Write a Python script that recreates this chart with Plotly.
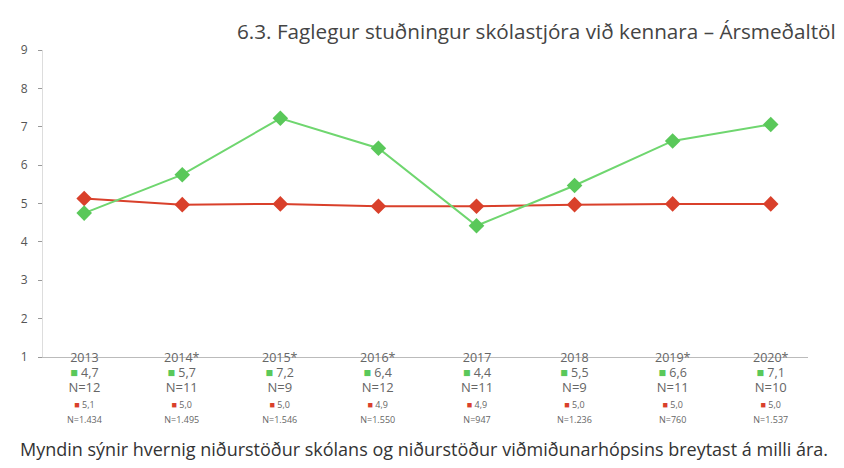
import plotly.graph_objects as go

years = ["2013", "2014*", "2015*", "2016*", "2017", "2018", "2019*", "2020*"]
school = [4.75, 5.75, 7.22, 6.44, 4.42, 5.47, 6.63, 7.06]
school_lbl = ["4,7", "5,7", "7,2", "6,4", "4,4", "5,5", "6,6", "7,1"]
school_n = ["N=12", "N=11", "N=9", "N=12", "N=11", "N=9", "N=11", "N=10"]
ref = [5.13, 4.97, 4.99, 4.93, 4.93, 4.97, 4.99, 4.99]
ref_lbl = ["5,1", "5,0", "5,0", "4,9", "4,9", "5,0", "5,0", "5,0"]
ref_n = ["N=1.434", "N=1.495", "N=1.546", "N=1.550", "N=947", "N=1.236", "N=760", "N=1.537"]

GREEN = "#6fd66f"
GREEN_M = "#5ac85a"
RED = "#d9402b"
FONT = "Open Sans, sans-serif"

xs = list(range(len(years)))

fig = go.Figure()
fig.add_trace(go.Scatter(x=xs, y=ref, mode="lines+markers",
                         line=dict(color=RED, width=2),
                         marker=dict(symbol="diamond", size=12, color=RED)))
fig.add_trace(go.Scatter(x=xs, y=school, mode="lines+markers",
                         line=dict(color=GREEN, width=2),
                         marker=dict(symbol="diamond", size=12, color=GREEN_M)))

ann = []
for i, x in enumerate(xs):
    txt = (f"<span style='font-size:12.5px'>{years[i]}</span><br>"
           f"<span style='font-size:12.5px;color:{GREEN_M}'>■</span>"
           f"<span style='font-size:12.5px'> {school_lbl[i]}</span><br>"
           f"<span style='font-size:13px'>{school_n[i]}</span><br>"
           f"<span style='font-size:9px;color:{RED}'>■</span>"
           f"<span style='font-size:9px'> {ref_lbl[i]}</span><br>"
           f"<span style='font-size:9px'>{ref_n[i]}</span>")
    ann.append(dict(x=x, y=(349 - 379.5) / 307, xref="x", yref="paper", showarrow=False,
                    xanchor="center", yanchor="middle", text=txt,
                    font=dict(size=11.7, color="#666", family=FONT)))
ann.append(dict(x=(416 - 35) / 765, y=(349 - 441) / 307, xref="paper", yref="paper", showarrow=False,
                xanchor="center", yanchor="middle",
                text="Myndin sýnir hvernig niðurstöður skólans og niðurstöður viðmiðunarhópsins breytast á milli ára.",
                font=dict(size=18, color="#333", family=FONT)))

fig.update_layout(
    width=844, height=468,
    margin=dict(l=35, r=44, t=42, b=119),
    paper_bgcolor="white", plot_bgcolor="white",
    showlegend=False,
    font=dict(family=FONT, color="#555"),
    title=dict(text="6.3. Faglegur stuðningur skólastjóra við kennara – Ársmeðaltöl",
               xref="container", x=229 / 844, xanchor="left", y=1 - 24 / 468, yanchor="middle",
               font=dict(size=20.7, color="#444", family=FONT)),
    annotations=ann,
    xaxis=dict(range=[-0.42, 7.38], showticklabels=False, showgrid=False, zeroline=False,
               showline=True, linecolor="#bbb", linewidth=1, ticks=""),
    yaxis=dict(range=[1, 9], tickvals=list(range(1, 10)), showgrid=False, zeroline=False,
               showline=True, linecolor="#ddd", linewidth=1, ticks="outside", ticklen=4,
               tickcolor="#999", ticklabelstandoff=8, tickfont=dict(size=12, color="#555")),
)

fig.write_html("out.html")
